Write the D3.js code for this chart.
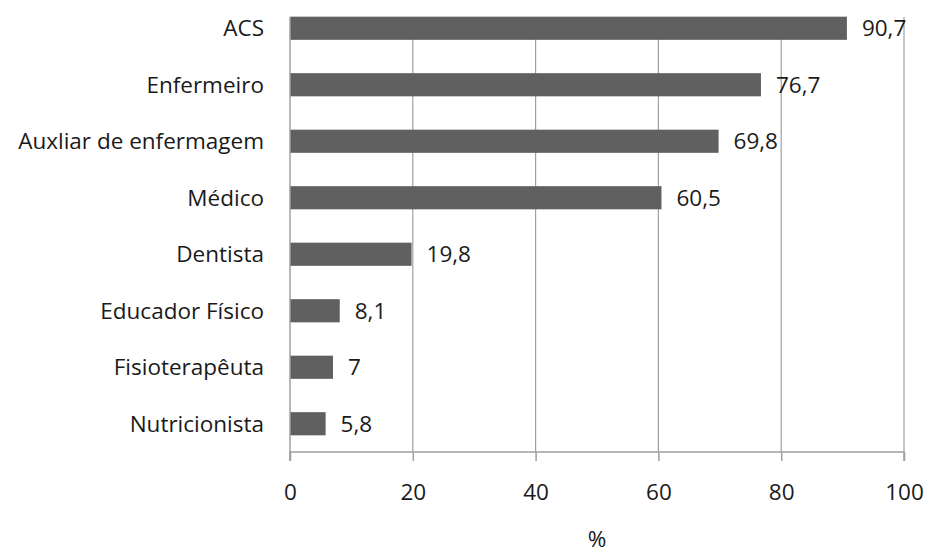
<!DOCTYPE html>
<html>
<head>
<meta charset="utf-8">
<script src="https://cdn.jsdelivr.net/npm/d3@7"></script>
<style>
  body { margin: 0; background: #fff; }
  text { font-family: "Open Sans", Lato, sans-serif; fill: #1a1a1a; font-variant-ligatures: none; }
</style>
</head>
<body>
<div id="chart"></div>
<script>
var categories = ["ACS", "Enfermeiro", "Auxliar de enfermagem", "Médico", "Dentista", "Educador Físico", "Fisioterapêuta", "Nutricionista"]
var values = [90.7, 76.7, 69.8, 60.5, 19.8, 8.1, 7, 5.8]
var valueLabels = ["90,7", "76,7", "69,8", "60,5", "19,8", "8,1", "7", "5,8"]
var xTicks = [0, 20, 40, 60, 80, 100]

var width = 926
var height = 555
var plotLeft = 290, plotRight = 904, plotTop = 0, plotBottom = 452
var gridTop = 17
var fontSize = "22.5px"

var svg = d3.select("#chart")
    .append("svg")
    .attr("width", width)
    .attr("height", height)

var x = d3.scaleLinear()
    .domain([0, 100])
    .range([plotLeft, plotRight])

var y = d3.scaleBand()
    .domain(categories)
    .range([plotTop, plotBottom])
    .paddingInner(0.59)
    .paddingOuter(0.295)

// vertical gridlines
svg.selectAll(".grid")
    .data(xTicks.slice(1))
    .enter()
    .append("line")
    .attr("x1", d => x(d))
    .attr("x2", d => x(d))
    .attr("y1", gridTop)
    .attr("y2", plotBottom)
    .attr("stroke", "#a0a0a0")
    .attr("stroke-width", 1.2)

// bars
svg.selectAll(".bar")
    .data(values)
    .enter()
    .append("rect")
    .attr("x", x(0))
    .attr("y", (d, i) => y(categories[i]))
    .attr("width", d => x(d) - x(0))
    .attr("height", y.bandwidth())
    .attr("fill", "#606060")

// value labels
svg.selectAll(".val")
    .data(values)
    .enter()
    .append("text")
    .attr("x", d => x(d) + 15)
    .attr("y", (d, i) => y(categories[i]) + y.bandwidth() / 2)
    .attr("dy", "0.36em")
    .style("font-size", fontSize)
    .text((d, i) => valueLabels[i])

// category labels
svg.selectAll(".cat")
    .data(categories)
    .enter()
    .append("text")
    .attr("x", plotLeft - 26)
    .attr("y", d => y(d) + y.bandwidth() / 2)
    .attr("dy", "0.36em")
    .attr("text-anchor", "end")
    .style("font-size", fontSize)
    .text(d => d)

// x axis
var xAxis = d3.axisBottom(x)
    .tickValues(xTicks)
    .tickSize(9)
    .tickPadding(23)
    .tickFormat(d => d)

var gx = svg.append("g")
    .attr("transform", "translate(0," + plotBottom + ")")
    .call(xAxis)
gx.select(".domain").attr("stroke", "#a0a0a0").attr("stroke-width", 1.5)
    .attr("d", "M" + plotLeft + ",0V9V0H" + plotRight + "V9V0")
gx.selectAll(".tick line").attr("stroke", "#a0a0a0").attr("stroke-width", 1.5)
gx.selectAll(".tick text")
    .style("font-size", fontSize)
    .attr("fill", "#1a1a1a")
    .style("font-family", "'Open Sans', Lato, sans-serif")

// y axis line
svg.append("line")
    .attr("x1", plotLeft)
    .attr("x2", plotLeft)
    .attr("y1", gridTop)
    .attr("y2", plotBottom + 9)
    .attr("stroke", "#a0a0a0")
    .attr("stroke-width", 1.5)

// axis title
svg.append("text")
    .attr("x", (plotLeft + plotRight) / 2)
    .attr("y", 539)
    .attr("dy", "0.36em")
    .attr("text-anchor", "middle")
    .style("font-size", fontSize)
    .text("%")
</script>
</body>
</html>
